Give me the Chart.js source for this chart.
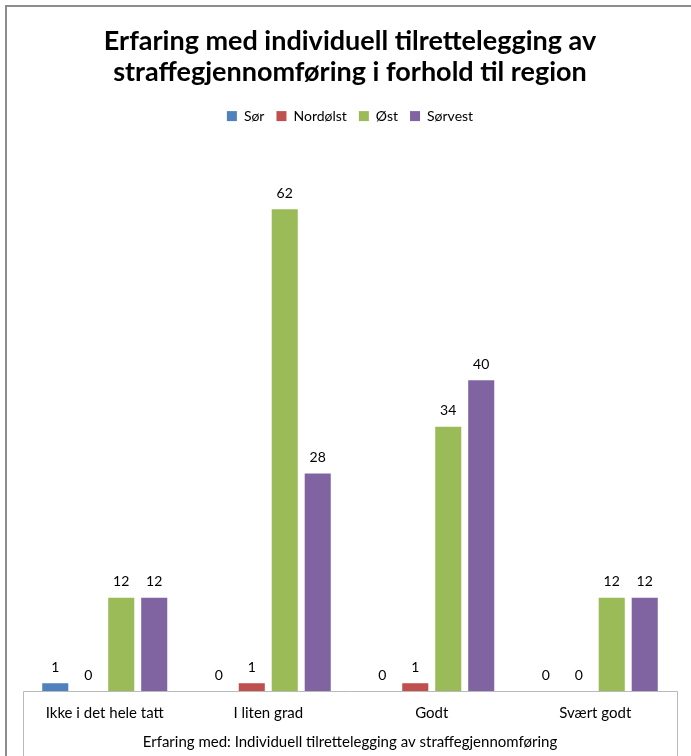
<!DOCTYPE html>
<html>
<head>
<meta charset="utf-8">
<script src="https://cdn.jsdelivr.net/npm/chart.js@4"></script>
<style>
html,body{margin:0;padding:0;background:#fff;}
#wrap{width:691px;height:756px;position:relative;}
</style>
</head>
<body>
<div id="wrap"><canvas id="c" width="691" height="756"></canvas></div>
<script>
const categories = ["Ikke i det hele tatt", "I liten grad", "Godt", "Svært godt"];
const serSor = [1, 0, 0, 0];
const serNordolst = [0, 1, 1, 0];
const serOst = [12, 62, 34, 12];
const serSorvest = [12, 28, 40, 12];
const seriesNames = ["Sør", "Nordølst", "Øst", "Sørvest"];
const seriesColors = ["#4F81BD", "#C0504D", "#9BBB59", "#8064A2"];
const titleLines = ["Erfaring med individuell tilrettelegging av", "straffegjennomføring i forhold til region"];
const axisTitle = "Erfaring med: Individuell tilrettelegging av straffegjennomføring";

const FONT = "Lato, 'Open Sans', sans-serif";

const valueLabels = {
  id: 'valueLabels',
  afterDatasetsDraw(chart) {
    const ctx = chart.ctx;
    ctx.save();
    ctx.font = "14px " + FONT;
    ctx.fillStyle = "#000";
    ctx.textAlign = "center";
    ctx.textBaseline = "bottom";
    chart.data.datasets.forEach((ds, i) => {
      const meta = chart.getDatasetMeta(i);
      meta.data.forEach((bar, j) => {
        ctx.fillText(String(ds.data[j]), bar.x, bar.y - 9);
      });
    });
    ctx.restore();
  }
};

const frame = {
  id: 'frame',
  afterDraw(chart) {
    const ctx = chart.ctx;
    const a = chart.chartArea;
    ctx.save();
    ctx.strokeStyle = "#8c8c8c";
    ctx.lineWidth = 2;
    ctx.beginPath();
    ctx.moveTo(6, 757);
    ctx.lineTo(6, 6);
    ctx.lineTo(692, 6);
    ctx.stroke();
    ctx.strokeStyle = "#b9b9b9";
    ctx.lineWidth = 1;
    ctx.beginPath();
    ctx.moveTo(Math.round(a.left) + 0.5, 757);
    ctx.lineTo(Math.round(a.left) + 0.5, Math.round(a.bottom) + 0.5);
    ctx.lineTo(Math.round(a.right) + 0.5, Math.round(a.bottom) + 0.5);
    ctx.lineTo(Math.round(a.right) + 0.5, 757);
    ctx.stroke();
    ctx.restore();
  }
};

const datasets = [serSor, serNordolst, serOst, serSorvest].map((d, i) => ({
  label: seriesNames[i],
  data: d,
  backgroundColor: seriesColors[i],
  borderWidth: 0,
  categoryPercentage: 0.807,
  barPercentage: 0.79
}));

new Chart(document.getElementById('c'), {
  type: 'bar',
  data: { labels: categories, datasets },
  options: {
    responsive: false,
    animation: false,
    layout: { padding: { left: 23, right: 14, top: 0, bottom: 0 } },
    plugins: {
      title: {
        display: true,
        text: titleLines,
        color: "#000",
        font: { family: FONT, size: 27, weight: 'bold', lineHeight: 1.15 },
        padding: { top: 26, bottom: 9 }
      },
      legend: {
        display: true,
        position: 'top',
        labels: {
          color: "#000",
          font: { family: FONT, size: 14 },
          boxWidth: 10,
          boxHeight: 10,
          padding: 12
        }
      },
      tooltip: { enabled: false }
    },
    scales: {
      x: {
        grid: { display: false },
        border: { display: false },
        ticks: { color: "#000", font: { family: FONT, size: 15 }, padding: 5, maxRotation: 0 },
        title: { display: true, text: axisTitle, color: "#000", font: { family: FONT, size: 15 }, padding: { top: 6, bottom: 5 } }
      },
      y: {
        display: false,
        min: 0,
        max: 71.8
      }
    }
  },
  plugins: [valueLabels, frame]
});
</script>
</body>
</html>
